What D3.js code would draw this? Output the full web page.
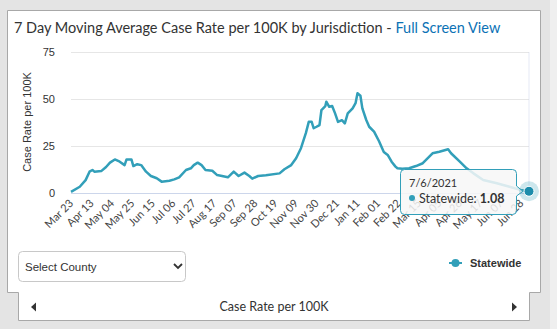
<!DOCTYPE html>
<html>
<head>
<meta charset="utf-8">
<script src="https://cdn.jsdelivr.net/npm/d3@7"></script>
<style>
  body { margin: 0; background: #e4e4e4; }
  svg { display: block; }
</style>
</head>
<body>
<svg id="chart" width="557" height="329"></svg>
<script>
// 7 day moving average, statewide
const dates = [
  "2020-03-23","2020-04-01","2020-04-07","2020-04-11","2020-04-14","2020-04-16","2020-04-23","2020-04-28",
  "2020-05-02","2020-05-07","2020-05-12","2020-05-17","2020-05-19","2020-05-24","2020-05-26","2020-05-30",
  "2020-06-03","2020-06-08","2020-06-13","2020-06-19","2020-06-24","2020-07-02","2020-07-07","2020-07-12",
  "2020-07-19","2020-07-24","2020-07-27","2020-07-31","2020-08-04","2020-08-08","2020-08-15","2020-08-20",
  "2020-08-25","2020-08-31","2020-09-06","2020-09-11","2020-09-17","2020-09-22","2020-09-25","2020-10-01",
  "2020-10-09","2020-10-23","2020-10-28","2020-11-04","2020-11-09","2020-11-14","2020-11-19","2020-11-22",
  "2020-11-25","2020-11-27","2020-11-30","2020-12-03","2020-12-05","2020-12-09","2020-12-10","2020-12-13",
  "2020-12-16","2020-12-19","2020-12-22","2020-12-26","2020-12-29","2021-01-01","2021-01-06","2021-01-09",
  "2021-01-11","2021-01-14","2021-01-16","2021-01-20","2021-01-23","2021-01-28","2021-02-02","2021-02-07",
  "2021-02-11","2021-02-15","2021-02-19","2021-02-21","2021-02-26","2021-03-05","2021-03-12","2021-03-19",
  "2021-03-29","2021-04-05","2021-04-14","2021-04-17","2021-04-26","2021-05-03","2021-05-10","2021-05-20",
  "2021-06-03","2021-06-16","2021-06-27","2021-07-06"
];
const statewide = [
  0.8, 3.5, 7, 11.5, 12.4, 11.5, 11.8, 14,
  16.3, 18, 16.8, 15, 18, 18, 14.5, 15.5,
  15, 11.5, 9.2, 8, 6.2, 6.7, 7.4, 8.5,
  12.4, 13.3, 15, 16.3, 15, 12.4, 12, 9.7,
  9.2, 8.5, 11.5, 9.2, 11, 9.2, 7.8, 9.2,
  9.6, 10.6, 12.8, 15, 18.6, 24, 32, 38,
  38, 34.6, 35.4, 36.3, 44.3, 46.4, 48.7, 46,
  46.4, 42.5, 38, 38.9, 37.2, 42.5, 45.2, 47.9,
  53.2, 51.9, 45.2, 39, 35.4, 32.8, 27.8, 22,
  20.4, 16.8, 14.2, 13.3, 13, 13.3, 14.5, 16,
  21.3, 22.1, 23.4, 21.3, 16.8, 13.3, 10.6, 7.1,
  5.3, 3.5, 1.8, 1.08
];
const tickDates = [
  "2020-03-23","2020-04-13","2020-05-04","2020-05-25","2020-06-15","2020-07-06","2020-07-27","2020-08-17",
  "2020-09-07","2020-09-28","2020-10-19","2020-11-09","2020-11-30","2020-12-21","2021-01-11","2021-02-01",
  "2021-02-22","2021-03-15","2021-04-05","2021-04-26","2021-05-17","2021-06-07","2021-06-28"
];
const yTicks = [0, 25, 50, 75];
const seriesName = "Statewide";

const parse = d3.timeParse("%Y-%m-%d");
const points = dates.map((d, i) => ({ date: parse(d), value: statewide[i] }));

const teal = "#329fb9";
const sans = "'Liberation Sans', Arial, sans-serif";
const round = "Lato, 'Open Sans', sans-serif";

const svg = d3.select("#chart");

// card and the tab under it
svg.append("rect").attr("x", 550).attr("y", 0).attr("width", 7).attr("height", 329).attr("fill", "#efefef");
svg.append("path")
  .attr("d", "M7.5,10.5 H540.5 V292.5 H529.5 V320.5 H18.5 V292.5 H7.5 Z")
  .attr("fill", "#fff")
  .attr("stroke", "#a8a8a8");

// title
const title = svg.append("text")
  .attr("x", 14).attr("y", 33)
  .attr("font-family", round).attr("font-size", 14.5).attr("fill", "#333");
title.append("tspan").text("7 Day Moving Average Case Rate per 100K by Jurisdiction - ");
title.append("tspan").attr("fill", "#0b72b5").text("Full Screen View");

// scales
const x = d3.scaleTime()
  .domain([parse(dates[0]), parse(dates[dates.length - 1])])
  .range([71, 529]);
const y = d3.scaleLinear().domain([0, 75]).range([193.3, 52.3]);

// grid
svg.append("g").selectAll("line")
  .data(yTicks)
  .join("line")
  .attr("x1", 71).attr("x2", 529)
  .attr("y1", d => Math.round(y(d)) + 0.5).attr("y2", d => Math.round(y(d)) + 0.5)
  .attr("stroke", d => d === 0 ? "#ccd6eb" : "#e6e6e6");

svg.append("g").selectAll("text")
  .data(yTicks)
  .join("text")
  .attr("x", 55).attr("y", d => y(d) + 4)
  .attr("text-anchor", "end")
  .attr("font-family", sans).attr("font-size", 11).attr("fill", "#333")
  .text(d => d);

svg.append("text")
  .attr("transform", "translate(31,122) rotate(-90)")
  .attr("text-anchor", "middle")
  .attr("font-family", sans).attr("font-size", 11).attr("fill", "#333")
  .text("Case Rate per 100K");

// x labels
const fmt = d3.timeFormat("%b %d");
svg.append("g").selectAll("text")
  .data(tickDates.map(parse))
  .join("text")
  .attr("transform", d => `translate(${x(d) + 3},${204}) rotate(-45)`)
  .attr("text-anchor", "end")
  .attr("font-family", round).attr("font-size", 11).attr("fill", "#444")
  .text(d => fmt(d));

// crosshair at hovered point
const last = points[points.length - 1];
svg.append("line")
  .attr("x1", x(last.date)).attr("x2", x(last.date))
  .attr("y1", 52).attr("y2", 193)
  .attr("stroke", "#ccd6eb").attr("stroke-opacity", 0.5);

// series
const line = d3.line().x(d => x(d.date)).y(d => y(d.value));
svg.append("path")
  .datum(points)
  .attr("d", line)
  .attr("fill", "none")
  .attr("stroke", teal)
  .attr("stroke-width", 2.5)
  .attr("stroke-linejoin", "round");

// tooltip
const px = x(last.date), py = y(last.value);
const tip = svg.append("g");
tip.append("path")
  .attr("d", `M404.5,169.5 H512.5 Q516.5,169.5 516.5,173.5 V186 L${px - 6},${py} L516.5,196 V210.5 Q516.5,214.5 512.5,214.5 H404.5 Q400.5,214.5 400.5,210.5 V173.5 Q400.5,169.5 404.5,169.5 Z`)
  .attr("fill", "rgba(247,247,247,0.85)")
  .attr("stroke", teal);
tip.append("text")
  .attr("x", 409).attr("y", 187)
  .attr("font-family", round).attr("font-size", 11).attr("fill", "#333")
  .text(d3.timeFormat("%-m/%-d/%Y")(last.date));
tip.append("circle").attr("cx", 412).attr("cy", 198).attr("r", 3).attr("fill", teal);
const tt = tip.append("text")
  .attr("x", 419).attr("y", 203)
  .attr("font-family", round).attr("font-size", 12.5).attr("fill", "#333");
tt.append("tspan").text(seriesName + ": ");
tt.append("tspan").attr("font-weight", "bold").text(last.value.toFixed(2));

// hover marker
svg.append("circle").attr("cx", px).attr("cy", py).attr("r", 10)
  .attr("fill", teal).attr("fill-opacity", 0.25);
svg.append("circle").attr("cx", px).attr("cy", py).attr("r", 5)
  .attr("fill", "#1b8cab").attr("stroke", "#fff").attr("stroke-width", 1);

// select box
svg.append("rect")
  .attr("x", 18.5).attr("y", 251.5).attr("width", 167).attr("height", 30).attr("rx", 4)
  .attr("fill", "#fff").attr("stroke", "#c8c8c8");
svg.append("text")
  .attr("x", 25).attr("y", 271)
  .attr("font-family", sans).attr("font-size", 11.5).attr("fill", "#333")
  .text("Select County");
svg.append("path")
  .attr("d", "M174,264 L178,268 L182,264")
  .attr("fill", "none").attr("stroke", "#333").attr("stroke-width", 1.8);

// legend
svg.append("line").attr("x1", 449).attr("x2", 462).attr("y1", 263).attr("y2", 263)
  .attr("stroke", teal).attr("stroke-width", 2);
svg.append("circle").attr("cx", 455.5).attr("cy", 263).attr("r", 4).attr("fill", teal);
svg.append("text")
  .attr("x", 470).attr("y", 267)
  .attr("font-family", sans).attr("font-size", 11).attr("font-weight", "bold").attr("fill", "#333")
  .text(seriesName);

// tab navigation
svg.append("path").attr("d", "M31,307 L36,302.5 V311.5 Z").attr("fill", "#333");
svg.append("path").attr("d", "M517,307 L512,302.5 V311.5 Z").attr("fill", "#333");
svg.append("text")
  .attr("x", 274).attr("y", 311)
  .attr("text-anchor", "middle")
  .attr("font-family", round).attr("font-size", 12.5).attr("fill", "#333")
  .text("Case Rate per 100K");
</script>
</body>
</html>
